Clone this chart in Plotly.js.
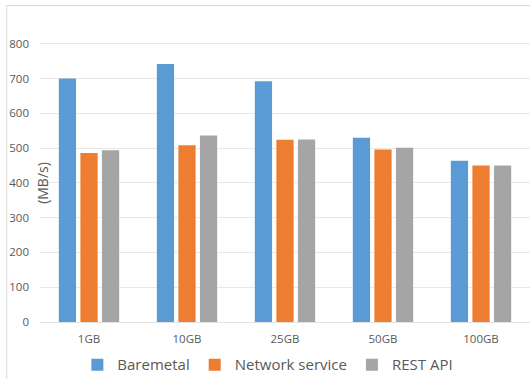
<!DOCTYPE html>
<html>
<head>
<meta charset="utf-8">
<script src="https://cdn.plot.ly/plotly-3.0.1.min.js"></script>
<style>html,body{margin:0;padding:0;background:#fff;overflow:hidden;}#chart{width:530px;height:379px;}</style>
</head>
<body>
<div id="chart"></div>
<script>
const categories = ["1GB", "10GB", "25GB", "50GB", "100GB"];
const baremetal = [700, 742, 692, 530, 464];
const networkService = [486, 508, 524, 496, 450];
const restApi = [494, 536, 525, 501, 450];
const seriesNames = ["Baremetal", "Network service", "REST API"];
const yTicks = [0, 100, 200, 300, 400, 500, 600, 700, 800];
const yTitle = "(MB/s)";

const colors = ["#5B9BD5", "#ED7D31", "#A5A5A5"];
const font = "'Open Sans', 'DejaVu Sans', sans-serif";

const data = [baremetal, networkService, restApi].map((vals, i) => ({
  type: "bar",
  x: categories,
  y: vals,
  name: seriesNames[i],
  marker: {color: colors[i]},
  hoverinfo: "x+y+name"
}));

const layout = {
  width: 530, height: 379,
  margin: {l: 40, r: 0, t: 8.5, b: 57.3, autoexpand: false},
  paper_bgcolor: "#ffffff",
  plot_bgcolor: "#ffffff",
  barmode: "group",
  bargap: 0.34,
  bargroupgap: 0.2,
  font: {family: font, color: "#595959"},
  showlegend: true,
  legend: {
    orientation: "h", x: 0.465, xanchor: "center", y: -0.137, yanchor: "middle",
    font: {size: 15, color: "#595959", family: font},
    itemwidth: 30, tracegroupgap: 0
  },
  xaxis: {
    type: "category",
    showgrid: false, zeroline: false,
    showline: true, linecolor: "#e3e3e3", linewidth: 1,
    tickfont: {size: 11.5, color: "#595959"},
    ticklabelstandoff: 6
  },
  yaxis: {
    range: [0, 900],
    tickvals: yTicks,
    showgrid: true, gridcolor: "#e8e8e8", gridwidth: 1,
    zeroline: false, showline: false,
    tickfont: {size: 11.5, color: "#595959"},
    ticklabelstandoff: 10
  },
  annotations: [{
    text: yTitle, xref: "paper", yref: "paper",
    x: 0.005, y: 0.446, xanchor: "center", yanchor: "middle",
    textangle: -90, showarrow: false,
    font: {size: 14, color: "#595959", family: font}
  }],
  shapes: [
    {type: "line", xref: "paper", yref: "paper", x0: -0.068, x1: -0.068, y0: -0.3, y1: 1.011, line: {color: "#d9d9d9", width: 1}},
    {type: "line", xref: "paper", yref: "paper", x0: -0.068, x1: 1.1, y0: 1.011, y1: 1.011, line: {color: "#d9d9d9", width: 1}}
  ]
};

Plotly.newPlot("chart", data, layout, {displayModeBar: false, staticPlot: true});
</script>
</body>
</html>
